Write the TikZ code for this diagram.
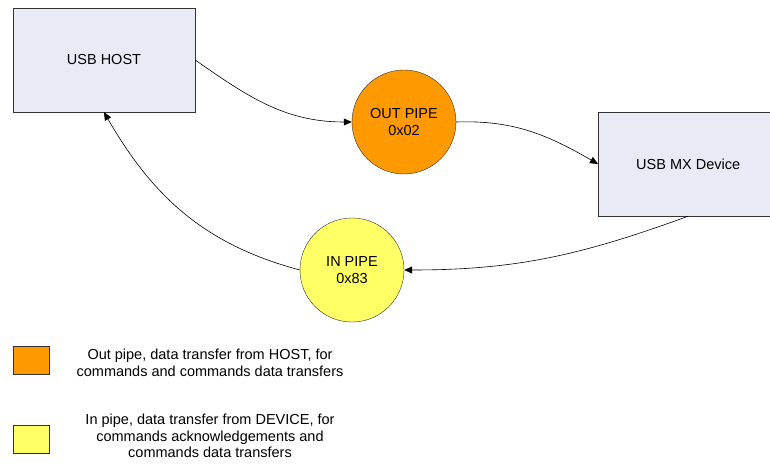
\documentclass[tikz,border=0pt]{standalone}
\usepackage{fontspec}
\setmainfont{Liberation Sans}
\usetikzlibrary{arrows.meta}
\definecolor{caixa}{HTML}{E8EBF6}
\definecolor{laranja}{HTML}{FF9900}
\definecolor{amarelo}{HTML}{FFFF66}
\tikzset{
bloco/.style = {draw=black!80, fill=caixa, minimum width=182pt, minimum height=104pt,
        inner sep=0pt, font=\fontsize{14.5}{17}\selectfont}
}
\tikzset{
tubo/.style = {draw=black!80, circle, minimum size=104pt, inner sep=0pt, align=center,
        font=\fontsize{14.5}{17}\selectfont}
}
\tikzset{
fluxo/.style = {-{Triangle[length=8pt,width=7pt]}, line width=0.6pt},
legenda/.style = {draw=black!80, minimum width=36pt, minimum height=28pt, inner sep=0pt},
texto/.style = {align=center, font=\fontsize{14.5}{16.5}\selectfont}
}

\begin{document}
\begin{tikzpicture}[x=1pt,y=-1pt]
    \useasboundingbox (0,0) rectangle (770,468);

    % blocos e tubos
    \node[bloco] (host) at (104,60) {USB HOST};
    \node[bloco, minimum width=180pt, anchor=west] (device) at (598,164) {USB MX Device};
    \node[tubo, fill=laranja] (out) at (404,122) {OUT PIPE\\0x02};
    \node[tubo, fill=amarelo] (in) at (352,270) {IN PIPE\\0x83};

    % ligacoes
    \draw[fluxo] (host.east) to[out=-35,in=180] (out.west);
    \draw[fluxo] (out.east) to[out=2,in=150] (device.west);
    \draw[fluxo] (device.south) to[out=-160,in=0] (in.east);
    \draw[fluxo] (in.west) to[out=165,in=-60] (host.south);

    % legenda
    \node[legenda, fill=laranja] (legout) at (31,360) {};
    \node[legenda, fill=amarelo] (legin) at (31,439) {};
    \node[texto] (txtout) at (210,363) {Out pipe, data transfer from HOST, for\\commands and commands data transfers};
    \node[texto] (txtin) at (210,436) {In pipe, data transfer from DEVICE, for\\commands acknowledgements and\\commands data transfers};
\end{tikzpicture}
\end{document}
